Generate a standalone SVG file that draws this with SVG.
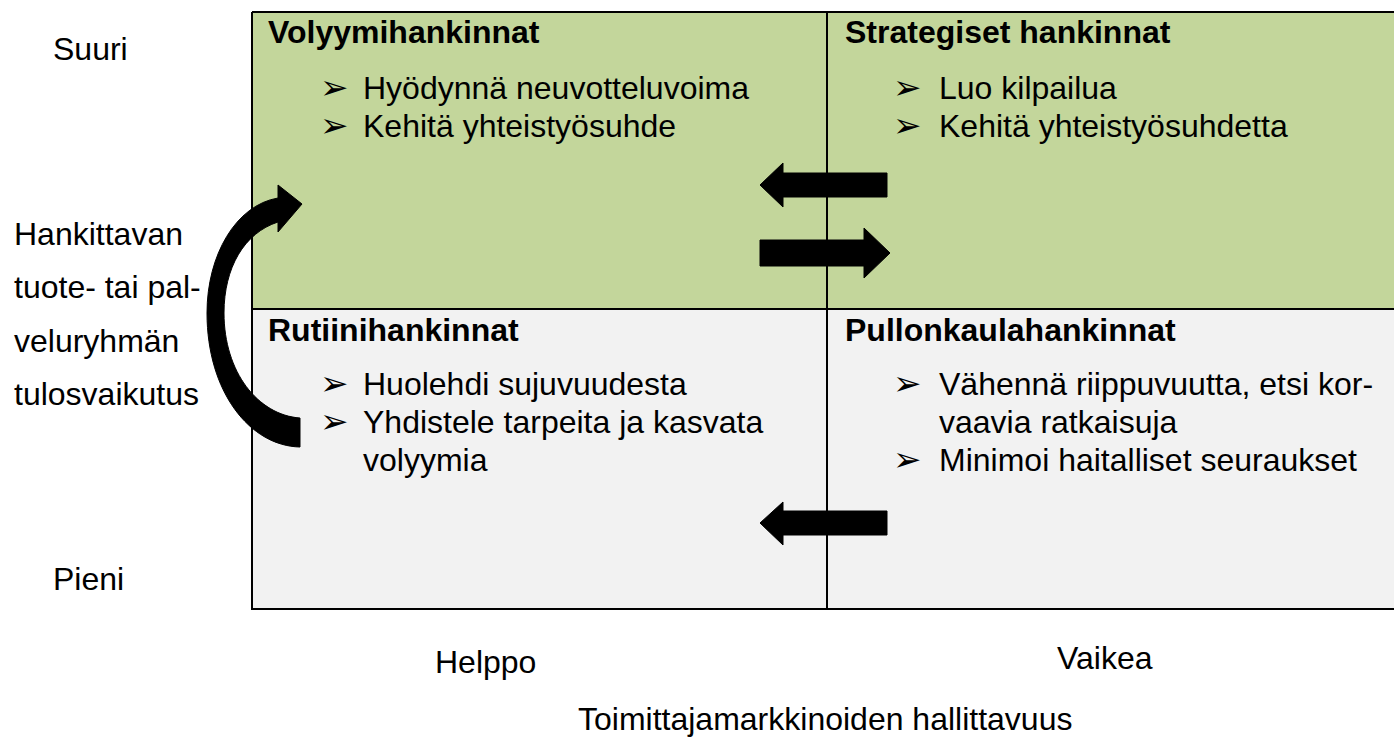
<svg xmlns="http://www.w3.org/2000/svg" width="1394" height="738" viewBox="0 0 1394 738">
<style>
  text { font-family: "Liberation Sans", Arial, sans-serif; font-size: 32px; fill: #000; }
  .title { font-weight: bold; }
  .bul { font-family: "DejaVu Sans", sans-serif; font-size: 34px; }
  .green { fill: #C3D69B; }
  .gray { fill: #F2F2F2; }
  .line { stroke: #000; stroke-width: 2; fill: none; }
  .arrow { fill: #000; stroke: #000; stroke-width: 1; stroke-linejoin: round; }
</style>
<rect width="1394" height="738" fill="#fff"/>

<g id="q1">
  <rect class="green" x="252" y="12" width="575" height="297"/>
  <text class="title" x="268" y="43">Volyymihankinnat</text>
  <text class="bul" x="320" y="99">➢</text><text x="363" y="99">Hyödynnä neuvotteluvoima</text>
  <text class="bul" x="320" y="137">➢</text><text x="363" y="137">Kehitä yhteistyösuhde</text>
</g>
<g id="q2">
  <rect class="green" x="827" y="12" width="567" height="297"/>
  <text class="title" x="845" y="43">Strategiset hankinnat</text>
  <text class="bul" x="893" y="99">➢</text><text x="939" y="99">Luo kilpailua</text>
  <text class="bul" x="893" y="137">➢</text><text x="939" y="137">Kehitä yhteistyösuhdetta</text>
</g>
<g id="q3">
  <rect class="gray" x="252" y="309" width="575" height="300"/>
  <text class="title" x="268" y="341">Rutiinihankinnat</text>
  <text class="bul" x="320" y="395">➢</text><text x="363" y="395">Huolehdi sujuvuudesta</text>
  <text class="bul" x="320" y="433">➢</text><text x="363" y="433">Yhdistele tarpeita ja kasvata</text>
  <text x="363" y="471">volyymia</text>
</g>
<g id="q4">
  <rect class="gray" x="827" y="309" width="567" height="300"/>
  <text class="title" x="845" y="341">Pullonkaulahankinnat</text>
  <text class="bul" x="893" y="395">➢</text><text x="939" y="395">Vähennä riippuvuutta, etsi kor-</text>
  <text x="939" y="433">vaavia ratkaisuja</text>
  <text class="bul" x="893" y="471">➢</text><text x="939" y="471">Minimoi haitalliset seuraukset</text>
</g>
<g id="grid">
  <path class="line" d="M252 12 H1396 M252 12 V609 H1396 M827 12 V609 M252 309 H1396"/>
</g>

<g id="labels">
  <text x="53" y="60">Suuri</text>
  <text x="53" y="590">Pieni</text>
  <text x="14" y="245">Hankittavan</text>
  <text x="14" y="298">tuote- tai pal-</text>
  <text x="14" y="352">veluryhmän</text>
  <text x="14" y="405">tulosvaikutus</text>
  <text x="435" y="673">Helppo</text>
  <text x="1057" y="669">Vaikea</text>
  <text x="578" y="730">Toimittajamarkkinoiden hallittavuus</text>
</g>

<g id="connectors">
  <path class="arrow" d="M887 173 V197 H783 V207 L760 185 L783 163 V173 Z"/>
  <path class="arrow" d="M760 240 V266 H864 V278 L890 253 L864 228 V240 Z"/>
  <path class="arrow" d="M887 511 V535 H783 V545 L760 523 L783 502 V511 Z"/>
  <path class="arrow" d="M300 418 C258 415 224 372 224 313 C224 268 244 233 278 222 L278 232 L302 204 L278 185 L278 198 C236 205 207 255 207 313 C207 392 250 446 300 447 Z"/>
</g>
</svg>
